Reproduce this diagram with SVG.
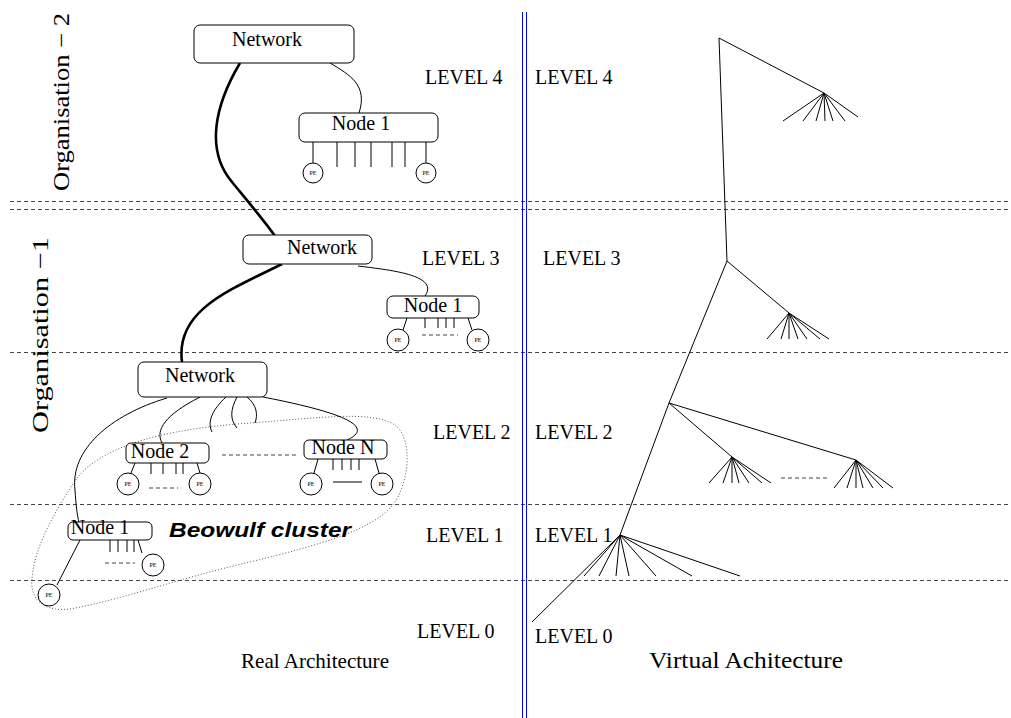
<svg xmlns="http://www.w3.org/2000/svg" width="1011" height="718" viewBox="0 0 1011 718">
<style>
text{font-family:"Liberation Serif","Times New Roman",serif;fill:#000}
.lv{font-size:20px}
.nd{font-size:20px;text-anchor:middle}
.pe{font-size:6px;text-anchor:middle}
.box{fill:#fff;stroke:#000;stroke-width:1}
.ln{fill:none;stroke:#000;stroke-width:1}
.thick{fill:none;stroke:#000;stroke-width:2.6}
.dash{fill:none;stroke:#444;stroke-width:1;stroke-dasharray:4,3}
.dot{fill:none;stroke:#555;stroke-width:1;stroke-dasharray:1,2}
.circ{fill:#fff;stroke:#000;stroke-width:1}
.blue{stroke:#0000ff;stroke-width:1}
</style>
<rect width="1011" height="718" fill="#fff"/>

<g id="guides">
<line class="dash" x1="10" y1="201.5" x2="1011" y2="201.5"/>
<line class="dash" x1="10" y1="209.5" x2="1011" y2="209.5"/>
<line class="dash" x1="10" y1="352.5" x2="1011" y2="352.5"/>
<line class="dash" x1="10" y1="504.5" x2="1011" y2="504.5"/>
<line class="dash" x1="10" y1="580.5" x2="1011" y2="580.5"/>
<line class="blue" x1="522.5" y1="12" x2="522.5" y2="718"/>
<line class="blue" x1="526.5" y1="12" x2="526.5" y2="718"/>
</g>

<g id="labels">
<text font-size="23" transform="translate(69,191) rotate(-90)" textLength="178" lengthAdjust="spacingAndGlyphs">Organisation  − 2</text>
<text font-size="23" transform="translate(48,433) rotate(-90)" textLength="196" lengthAdjust="spacingAndGlyphs">Organisation −1</text>
<text class="lv" x="425" y="84">LEVEL 4</text>
<text class="lv" x="535" y="84">LEVEL 4</text>
<text class="lv" x="422" y="265">LEVEL 3</text>
<text class="lv" x="543" y="265">LEVEL 3</text>
<text class="lv" x="433" y="439">LEVEL 2</text>
<text class="lv" x="535" y="439">LEVEL 2</text>
<text class="lv" x="426" y="542">LEVEL 1</text>
<text class="lv" x="535" y="542">LEVEL 1</text>
<text class="lv" x="417" y="638">LEVEL 0</text>
<text class="lv" x="535" y="643">LEVEL 0</text>
<text font-size="22" x="241" y="668" textLength="148" lengthAdjust="spacingAndGlyphs">Real Architecture</text>
<text font-size="23" x="649" y="668" textLength="194" lengthAdjust="spacingAndGlyphs">Virtual Achitecture</text>
</g>

<g id="beowulf">
<path class="dot" d="M77,478 C100,450 150,430 250,423 C320,418 370,410 395,425 C415,440 408,490 390,508 C370,530 320,545 250,562 C180,578 120,600 75,608 C45,614 30,600 32,580 C33,550 55,510 77,478 Z"/>
<text x="169" y="537" style="font-family:'Liberation Sans',Arial,sans-serif" font-weight="bold" font-style="italic" font-size="20" textLength="182" lengthAdjust="spacingAndGlyphs">Beowulf cluster</text>
</g>

<g id="connectors">
<path class="thick" d="M240,63 C215,105 205,150 232,182 C245,198 262,218 275,236"/>
<path class="thick" d="M282,264 C230,290 175,310 182,362"/>
<path class="ln" d="M330,63 C350,75 368,85 359,113"/>
<path class="ln" d="M358,266 C390,270 440,275 425,296"/>
<path class="ln" d="M167,398 C110,415 70,450 75,490 C76,505 77,515 79,522"/>
<path class="ln" d="M200,397 C165,415 155,430 162,443"/>
<path class="ln" d="M226,397 C212,410 207,422 212,432"/>
<path class="ln" d="M237,397 C230,410 230,420 237,428"/>
<path class="ln" d="M247,397 C257,405 258,415 255,423"/>
<path class="ln" d="M263,397 C330,410 380,425 347,440"/>
</g>

<g id="net-top">
<rect class="box" x="194" y="25" width="160" height="38" rx="6"/>
<text class="nd" x="267" y="46">Network</text>
</g>

<g id="node1-l4">
<path class="ln" d="M313,142V163M337,142V167M355,142V167M371,142V167M392,142V167M405,142V167M426,142V163"/>
<rect class="box" x="299" y="113" width="139" height="29" rx="6"/>
<text class="nd" x="361" y="130">Node 1</text>
<circle class="circ" cx="313" cy="173" r="10"/><text class="pe" x="313" y="175">PE</text>
<circle class="circ" cx="426" cy="173" r="10"/><text class="pe" x="426" y="175">PE</text>
</g>

<g id="net-l3">
<rect class="box" x="243" y="235" width="129" height="29" rx="6"/>
<text class="nd" x="322" y="254">Network</text>
</g>

<g id="node1-l3">
<path class="ln" d="M407,318L403,330M468,318L472,330M425,318V328M438,318V328M446,318V328M454,318V328"/>
<line class="dash" x1="422" y1="335" x2="458" y2="335"/>
<rect class="box" x="387" y="296" width="92" height="22" rx="6"/>
<text class="nd" x="433" y="312">Node 1</text>
<circle class="circ" cx="398" cy="340" r="11"/><text class="pe" x="398" y="342">PE</text>
<circle class="circ" cx="478" cy="340" r="11"/><text class="pe" x="478" y="342">PE</text>
</g>

<g id="net-l2">
<rect class="box" x="138" y="362" width="129" height="35" rx="6"/>
<text class="nd" x="200" y="382">Network</text>
</g>

<g id="node2">
<path class="ln" d="M135,463L131,473M197,463L200,473M151,463V474M163,463V474M176,463V474M183,463V474"/>
<line class="dash" x1="149" y1="488" x2="178" y2="488"/>
<rect class="box" x="126" y="443" width="83" height="20" rx="5"/>
<text class="nd" x="160" y="458">Node 2</text>
<circle class="circ" cx="128" cy="484" r="11"/><text class="pe" x="128" y="486">PE</text>
<circle class="circ" cx="200" cy="484" r="11"/><text class="pe" x="200" y="486">PE</text>
</g>

<line class="dash" x1="222" y1="455" x2="297" y2="455"/>

<g id="nodeN">
<path class="ln" d="M318,459L314,473M375,459L379,473M333,459V470M342,459V470M351,459V470M359,459V470M333,482H362"/>
<rect class="box" x="304" y="440" width="83" height="19" rx="5"/>
<text class="nd" x="343" y="454">Node N</text>
<circle class="circ" cx="311" cy="484" r="11"/><text class="pe" x="311" y="486">PE</text>
<circle class="circ" cx="382" cy="484" r="11"/><text class="pe" x="382" y="486">PE</text>
</g>

<g id="node1-l1">
<path class="ln" d="M80,540L57,585M110,540V552M118,540V552M127,540V552M134,540V552M138,540L142,553"/>
<line class="dash" x1="105" y1="563" x2="135" y2="563"/>
<rect class="box" x="68" y="522" width="84" height="18" rx="5"/>
<text class="nd" x="100" y="534">Node 1</text>
<circle class="circ" cx="49" cy="595" r="11"/><text class="pe" x="49" y="597">PE</text>
<circle class="circ" cx="153" cy="565" r="11"/><text class="pe" x="153" y="567">PE</text>
</g>

<g id="virtual-tree">
<path class="ln" d="M727,261L719,38L824,93M727,261L789,313M727,261L669,403L620,535L532,622M669,403L732,457M669,403L856,460"/>
<path class="ln" d="M824,93L783,121M824,93L803,121M824,93L816,121M824,93L825,121M824,93L833,121M824,93L845,121M824,93L858,117"/>
<path class="ln" d="M789,313L767,339M789,313L781,339M789,313L789,339M789,313L798,339M789,313L807,339M789,313L820,339M789,313L829,339"/>
<path class="ln" d="M732,457L709,483M732,457L723,483M732,457L732,483M732,457L739,483M732,457L749,483M732,457L762,483M732,457L771,483"/>
<path class="ln" d="M856,460L834,488M856,460L847,488M856,460L856,488M856,460L863,488M856,460L873,488M856,460L883,488M856,460L893,488"/>
<line class="dash" x1="781" y1="478" x2="829" y2="478"/>
<path class="ln" d="M620,535L584,576M620,535L599,576M620,535L616,576M620,535L629,576M620,535L656,576M620,535L692,576M620,535L740,576"/>
</g>
</svg>
